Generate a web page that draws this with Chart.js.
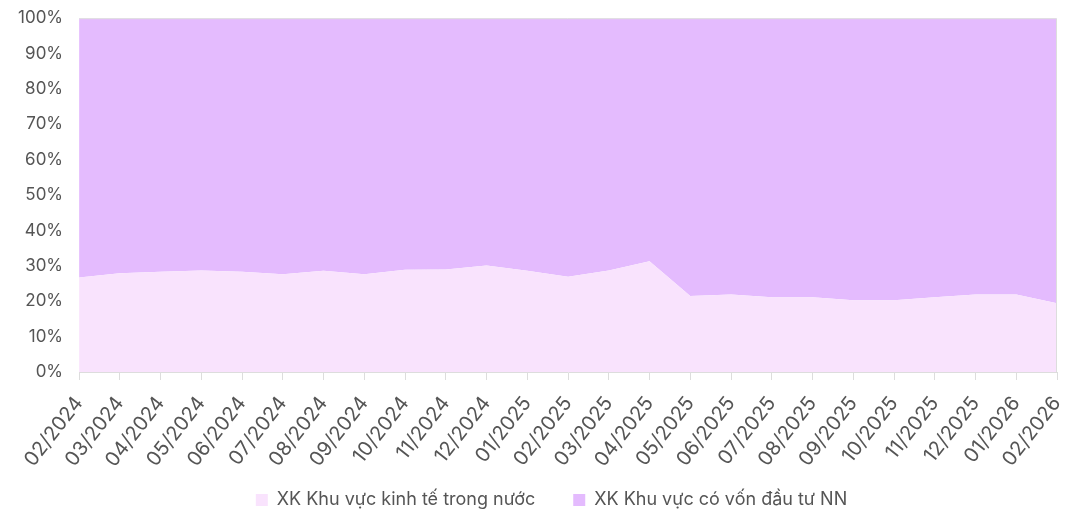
<!DOCTYPE html>
<html>
<head>
<meta charset="utf-8">
<script src="https://cdn.jsdelivr.net/npm/chart.js@4"></script>
<style>
  html, body { margin: 0; padding: 0; background: #fff; }
  #wrap { width: 1077px; height: 515px; }
</style>
</head>
<body>
<div id="wrap"><canvas id="shareChart"></canvas></div>
<script>
// tháng
const months = ['02/2024', '03/2024', '04/2024', '05/2024', '06/2024', '07/2024', '08/2024', '09/2024',
    '10/2024', '11/2024', '12/2024', '01/2025', '02/2025', '03/2025', '04/2025', '05/2025', '06/2025',
    '07/2025', '08/2025', '09/2025', '10/2025', '11/2025', '12/2025', '01/2026', '02/2026'];

// tỷ trọng XK (%)
const domestic = [26.7, 27.9, 28.3, 28.7, 28.3, 27.6, 28.6, 27.6, 28.9, 29.0, 30.1, 28.6, 26.9,
    28.7, 31.3, 21.5, 21.9, 21.1, 21.1, 20.3, 20.3, 21.1, 21.9, 21.9, 19.4];
const foreign = [73.3, 72.1, 71.7, 71.3, 71.7, 72.4, 71.4, 72.4, 71.1, 71.0, 69.9, 71.4, 73.1,
    71.3, 68.7, 78.5, 78.1, 78.9, 78.9, 79.7, 79.7, 78.9, 78.1, 78.1, 80.6];

const yTicks = [0, 10, 20, 30, 40, 50, 60, 70, 80, 90, 100];

// chú thích thấp hơn + viền trên/phải của vùng vẽ
const frame = {
    id: 'frame',
    afterInit(chart) {
        const lg = chart.legend;
        const fit = lg.fit;
        lg.fit = function () { fit.call(this); this.height = 42; };
    },
    afterLayout(chart) {
        const lg = chart.legend;
        lg.left += 18; lg.right += 18;
        lg.top = 453; lg.bottom = 515; lg.height = 62;
    },
    afterDatasetsDraw(chart) {
        const { ctx, chartArea: a } = chart;
        ctx.save();
        ctx.strokeStyle = '#ddd';
        ctx.lineWidth = 1;
        ctx.beginPath();
        ctx.moveTo(a.left, a.top + 0.5);
        ctx.lineTo(a.right - 0.5, a.top + 0.5);
        ctx.lineTo(a.right - 0.5, a.bottom);
        ctx.stroke();
        ctx.restore();
    }
};

let ctx = document.getElementById('shareChart').getContext('2d');
let shareChart = new Chart(ctx, {
    type: 'line',
    data: {
        labels: months,
        datasets: [
            { label: 'XK Khu vực kinh tế trong nước', data: domestic, backgroundColor: '#f9e3fd',
              borderWidth: 0, pointRadius: 0, fill: 'origin' },
            { label: 'XK Khu vực có vốn đầu tư NN', data: foreign, backgroundColor: '#e4bbfe',
              borderWidth: 0, pointRadius: 0, fill: '-1' }
        ]
    },
    plugins: [frame],
    options: {
        responsive: true,
        maintainAspectRatio: false,
        animation: false,
        layout: { padding: { left: 10, right: 20, top: 7, bottom: 2 } },
        plugins: {
            tooltip: { enabled: false },
            legend: {
                position: 'bottom',
                labels: {
                    color: '#555',
                    font: { family: 'Inter', size: 18 },
                    boxWidth: 12, boxHeight: 12, padding: 38, useBorderRadius: false
                }
            }
        },
        scales: {
            x: {
                offset: false,
                afterFit: s => { s.height = 99; s.paddingLeft = 0; s.paddingRight = 0; },
                grid: { drawOnChartArea: false, color: '#ddd', tickLength: 8 },
                border: { color: '#ddd' },
                ticks: { color: '#555', font: { family: 'Inter', size: 20 }, maxRotation: 52, minRotation: 52,
                    autoSkip: false, padding: 12 }
            },
            y: {
                stacked: true,
                min: 0, max: 100,
                afterBuildTicks: axis => { axis.ticks = yTicks.map(v => ({ value: v })); },
                grid: { display: false },
                border: { display: false },
                ticks: { color: '#555', font: { family: 'Inter', size: 17 }, padding: 8, callback: v => v + '%' }
            }
        }
    }
});
</script>
</body>
</html>
